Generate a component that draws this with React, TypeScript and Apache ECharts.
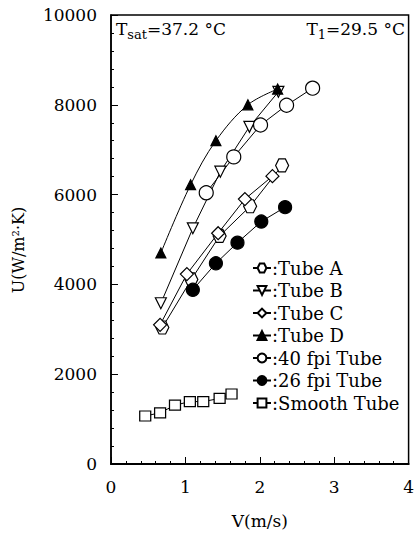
import React, { useEffect, useRef } from 'react';
import * as echarts from 'echarts';

const xTicks = [0, 1, 2, 3, 4];
const yTicks = [0, 2000, 4000, 6000, 8000, 10000];

const tubeA = [[0.69, 3040], [1.08, 4110], [1.46, 5080], [1.87, 5740], [2.30, 6650]];
const tubeB = [[0.67, 3580], [1.10, 5250], [1.47, 6510], [1.86, 7510], [2.25, 8290]];
const tubeC = [[0.66, 3100], [1.02, 4230], [1.44, 5140], [1.80, 5900], [2.17, 6410]];
const tubeD = [[0.67, 4700], [1.07, 6220], [1.41, 7200], [1.84, 8000], [2.24, 8350]];
const fpi40 = [[1.28, 6040], [1.65, 6840], [2.01, 7550], [2.36, 7990], [2.71, 8370]];
const fpi26 = [[1.10, 3880], [1.41, 4470], [1.70, 4930], [2.02, 5400], [2.34, 5720]];
const smooth = [[0.46, 1070], [0.66, 1140], [0.86, 1310], [1.06, 1390], [1.24, 1390], [1.46, 1460], [1.62, 1560]];

const names = ['Tube A', 'Tube B', 'Tube C', 'Tube D', '40 fpi Tube', '26 fpi Tube', 'Smooth Tube'];

const FONT = 'DejaVu Serif';
const HEX = 'path://M-1,0 L-0.5,-0.866 L0.5,-0.866 L1,0 L0.5,0.866 L-0.5,0.866 Z';

function mk(name: string, data: number[][], symbol: string, size: any, filled: boolean, extra: any = {}) {
  return {
    name,
    type: 'line',
    data,
    symbol,
    symbolSize: size,
    showAllSymbol: true,
    lineStyle: { color: '#000', width: 1 },
    itemStyle: { color: filled ? '#000' : '#fff', borderColor: '#000', borderWidth: 1.2 },
    emphasis: { disabled: true },
    ...extra,
  };
}

export default function App() {
  const ref = useRef<HTMLDivElement>(null);
  useEffect(() => {
    if (!ref.current) return;
    const chart = echarts.init(ref.current, null, { renderer: 'svg' });
    chart.setOption({
      animation: false,
      backgroundColor: '#fff',
      textStyle: { fontFamily: FONT, color: '#000' },
      grid: { left: 111, right: 7, top: 15, bottom: 73, show: true, borderColor: '#000', borderWidth: 1.5, backgroundColor: 'transparent' },
      xAxis: {
        type: 'value', min: xTicks[0], max: xTicks[xTicks.length - 1], interval: 1,
        name: 'V(m/s)', nameLocation: 'middle', nameGap: 48,
        nameTextStyle: { fontFamily: FONT, fontSize: 17, color: '#000' },
        axisLine: { lineStyle: { color: '#000', width: 2 } },
        axisTick: { inside: true, length: 7, lineStyle: { color: '#000' } },
        minorTick: { show: true, splitNumber: 5, length: 3, lineStyle: { color: '#000' } },
        axisLabel: { fontFamily: FONT, fontSize: 17, color: '#000', margin: 14 },
        splitLine: { show: false },
      },
      yAxis: {
        type: 'value', min: yTicks[0], max: yTicks[yTicks.length - 1], interval: 2000,
        axisLine: { show: true, lineStyle: { color: '#000', width: 1.5 } },
        axisTick: { inside: true, length: 7, lineStyle: { color: '#000' } },
        minorTick: { show: true, splitNumber: 5, length: 3, lineStyle: { color: '#000' } },
        axisLabel: { fontFamily: FONT, fontSize: 17, color: '#000', margin: 14, formatter: (v: number) => String(v) },
        splitLine: { show: false },
      },
      legend: {
        orient: 'vertical', left: 247, top: 253,
        data: names,
        itemWidth: 18, itemHeight: 11, itemGap: 2.5,
        formatter: ':{name}',
        textStyle: { fontFamily: FONT, fontSize: 18, color: '#000', lineHeight: 20, padding: [0, 0, 0, -4] },
        selectedMode: false,
      },
      graphic: [
        {
          type: 'text', left: 116, top: 17,
          style: {
            text: 'T{s|sat}=37.2 °C',
            fontFamily: FONT, fontSize: 17, fill: '#000', lineHeight: 24,
            rich: { s: { fontFamily: FONT, fontSize: 13, verticalAlign: 'bottom', lineHeight: 24 } },
          },
        },
        {
          type: 'text', right: 12, top: 17,
          style: {
            text: 'T{s|1}=29.5 °C',
            fontFamily: FONT, fontSize: 17, fill: '#000', lineHeight: 24,
            rich: { s: { fontFamily: FONT, fontSize: 13, verticalAlign: 'bottom', lineHeight: 24 } },
          },
        },
        {
          type: 'text', x: 18, y: 250, rotation: Math.PI / 2,
          style: { text: 'U(W/m²·K)', fontFamily: FONT, fontSize: 16, fill: '#000', align: 'center', verticalAlign: 'middle' },
        },
      ],
      series: [
        mk('Tube A', tubeA, HEX, 13, false),
        mk('Tube B', tubeB, 'triangle', 11, false, { symbolRotate: 180 }),
        mk('Tube C', tubeC, 'diamond', 13, false),
        mk('Tube D', tubeD, 'triangle', 10, true, { smooth: 0.35 }),
        mk('40 fpi Tube', fpi40, 'circle', 14, false),
        mk('26 fpi Tube', fpi26, 'circle', 13, true),
        mk('Smooth Tube', smooth, 'rect', [11, 10], false),
      ],
    });
    return () => chart.dispose();
  }, []);
  return <div ref={ref} style={{ width: 417, height: 537, position: 'absolute', left: 0, top: 0 }} />;
}
